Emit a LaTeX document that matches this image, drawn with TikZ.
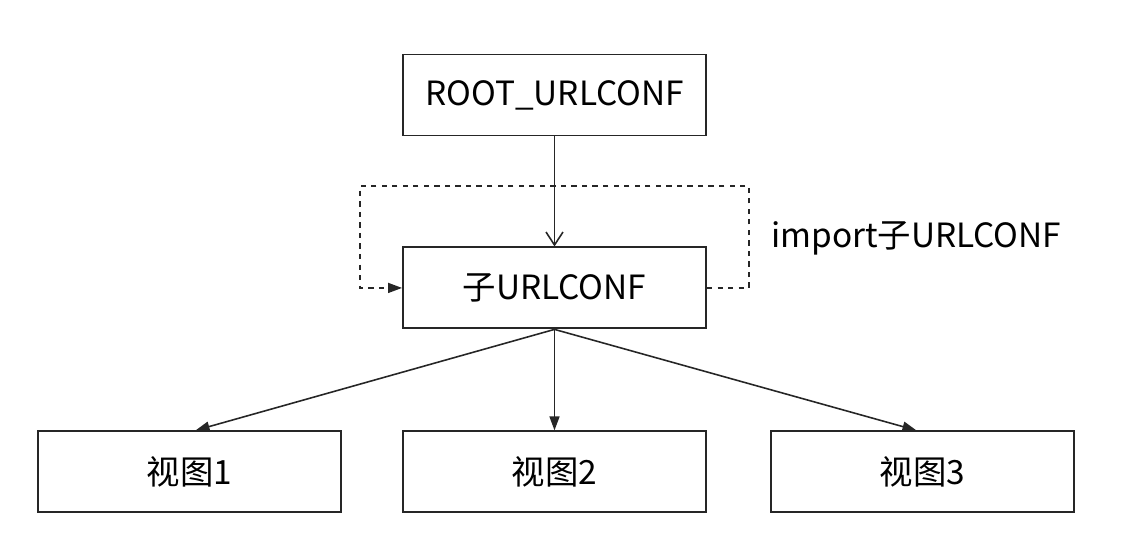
\documentclass[tikz,border=0pt]{standalone}
\usepackage{fontspec}
\setmainfont{Noto Sans CJK SC}
\usetikzlibrary{
	positioning,
	arrows.meta
}

\begin{document}
\begin{tikzpicture}[
	node distance = 2.1cm and 1.2cm,
	box/.style = {
		rectangle, draw=black!85, line width=1.1pt,
		minimum width=6.06cm, minimum height=1.62cm,
		inner sep=0pt,
		font=\fontsize{19}{23}\selectfont
	},
	link/.style = {
		draw=black!85, line width=0.9pt,
		-{Triangle[length=2.8mm,width=2mm]}
	}
]
	\useasboundingbox (0,0) rectangle (22.54,-10.74);
	\node [box] (root) at (11.09,-1.9) {ROOT\_URLCONF};
	\node [box, below=2.2cm of root] (sub) {子URLCONF};
	\node [box, below=2.02cm of sub] (view2) {视图2};
	\node [box, left=of view2] (view1) {视图1};
	\node [box, right=1.26cm of view2] (view3) {视图3};
	\node [anchor=west, font=\fontsize{19}{23}\selectfont] (imp) at (15.3,-4.76) {import子URLCONF};

	\draw [link, -{Straight Barb[length=2.6mm,width=3.4mm]}] (root) -- (sub);
	\draw [link, dashed] (sub.east) -- ++(0.84,0) -- ++(0,2.04)
		-| ([xshift=-0.84cm]sub.west) -- (sub.west);
	\draw [link] (sub.south) -- ([xshift=0.12cm]view1.north);
	\draw [link] (sub.south) -- (view2.north);
	\draw [link] (sub.south) -- ([xshift=-0.12cm]view3.north);
\end{tikzpicture}
\end{document}
